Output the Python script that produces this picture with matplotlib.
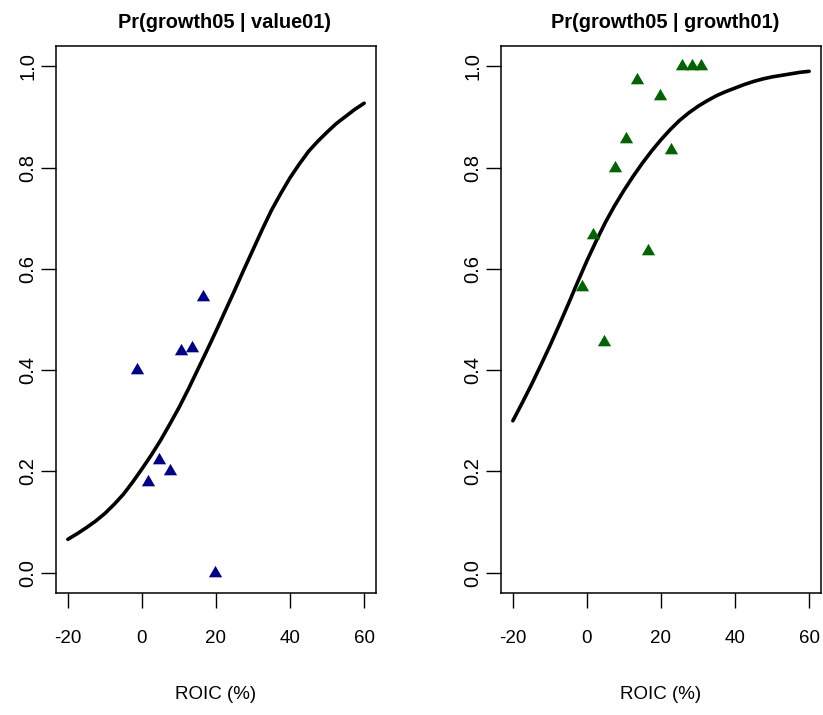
import numpy as np
import matplotlib
matplotlib.use("Agg")
import matplotlib.pyplot as plt
from matplotlib.path import Path

plt.rcParams['font.family'] = ['Liberation Sans', 'DejaVu Sans']

# ---- data ----
titles = ["Pr(growth05 | value01)", "Pr(growth05 | growth01)"]
xlabel = "ROIC (%)"
xticks = [-20, 0, 20, 40, 60]
yticks = [0.0, 0.2, 0.4, 0.6, 0.8, 1.0]
ytick_labels = ["0.0", "0.2", "0.4", "0.6", "0.8", "1.0"]

# left panel observed points
left_x = [-1.4, 1.6, 4.6, 7.6, 10.6, 13.6, 16.6, 19.6]
left_y = [0.400, 0.180, 0.222, 0.200, 0.437, 0.444, 0.545, 0.000]

# right panel observed points
right_x = [-1.4, 1.6, 4.6, 7.6, 10.6, 13.6, 16.6, 19.6, 22.6, 25.6, 28.4, 30.8]
right_y = [0.565, 0.667, 0.455, 0.800, 0.857, 0.973, 0.636, 0.941, 0.835, 1.000, 1.000, 1.000]

# fitted curves (read every 2.5 units)
curve_x = [-20, -17.5, -15, -12.5, -10, -7.5, -5, -2.5, 0, 2.5, 5, 7.5, 10, 12.5,
           15, 17.5, 20, 22.5, 25, 27.5, 30, 32.5, 35, 37.5, 40, 42.5, 45, 47.5,
           50, 52.5, 55, 57.5, 60]
left_curve = [0.066, 0.077, 0.089, 0.102, 0.117, 0.135, 0.155, 0.179, 0.205,
              0.232, 0.261, 0.293, 0.326, 0.362, 0.400, 0.438, 0.477, 0.517,
              0.557, 0.598, 0.638, 0.678, 0.716, 0.749, 0.780, 0.807, 0.832,
              0.852, 0.870, 0.887, 0.901, 0.915, 0.927]
right_curve = [0.300, 0.335, 0.371, 0.409, 0.448, 0.489, 0.531, 0.574, 0.616,
               0.655, 0.692, 0.725, 0.755, 0.783, 0.809, 0.833, 0.855, 0.875,
               0.893, 0.908, 0.921, 0.932, 0.942, 0.950, 0.957, 0.964, 0.970,
               0.975, 0.979, 0.982, 0.985, 0.988, 0.990]

left_color = "#00008B"
right_color = "#006400"

# R-style filled triangle (pch=17), centred on its centroid
tri = Path([(0, 1.555), (1.347, -0.778), (-1.347, -0.778), (0, 1.555)],
           [Path.MOVETO, Path.LINETO, Path.LINETO, Path.CLOSEPOLY])

W, H = 823, 715
fig = plt.figure(figsize=(W / 100, H / 100), dpi=100)

boxes = [(56, 376), (501, 821)]
title_x = [0.528, 0.513]
top_px, bot_px = 46, 593

panels = [
    (titles[0], left_x, left_y, left_curve, left_color),
    (titles[1], right_x, right_y, right_curve, right_color),
]

for (l, r), tx, (title, px, py, cy, col) in zip(boxes, title_x, panels):
    ax = fig.add_axes([l / W, (H - bot_px) / H, (r - l) / W, (bot_px - top_px) / H])
    ax.plot(curve_x, cy, color="black", lw=2.6, solid_capstyle="round",
            solid_joinstyle="round", zorder=2)
    ax.plot(px, py, linestyle="none", marker=tri, markersize=11.0,
            color=col, markeredgewidth=0, zorder=3)
    ax.set_xlim(-23.2, 63.2)
    ax.set_ylim(-0.04, 1.04)
    ax.set_xticks(xticks)
    ax.set_xticklabels([str(t) for t in xticks])
    ax.set_yticks(yticks)
    ax.set_yticklabels(ytick_labels, rotation=90, va="center")
    ax.tick_params(axis="both", direction="out", length=10.5, width=1.0,
                   colors="black")
    ax.tick_params(axis="x", pad=16, labelsize=13.5)
    ax.tick_params(axis="y", pad=3, labelsize=14.5)
    for s in ax.spines.values():
        s.set_linewidth(1.1)
        s.set_color("black")
    ax.set_title(title, fontsize=14.4, fontweight="bold", pad=13, x=tx)
    ax.set_xlabel(xlabel, fontsize=13.5, labelpad=28)

fig.savefig("out.png", dpi=100)
